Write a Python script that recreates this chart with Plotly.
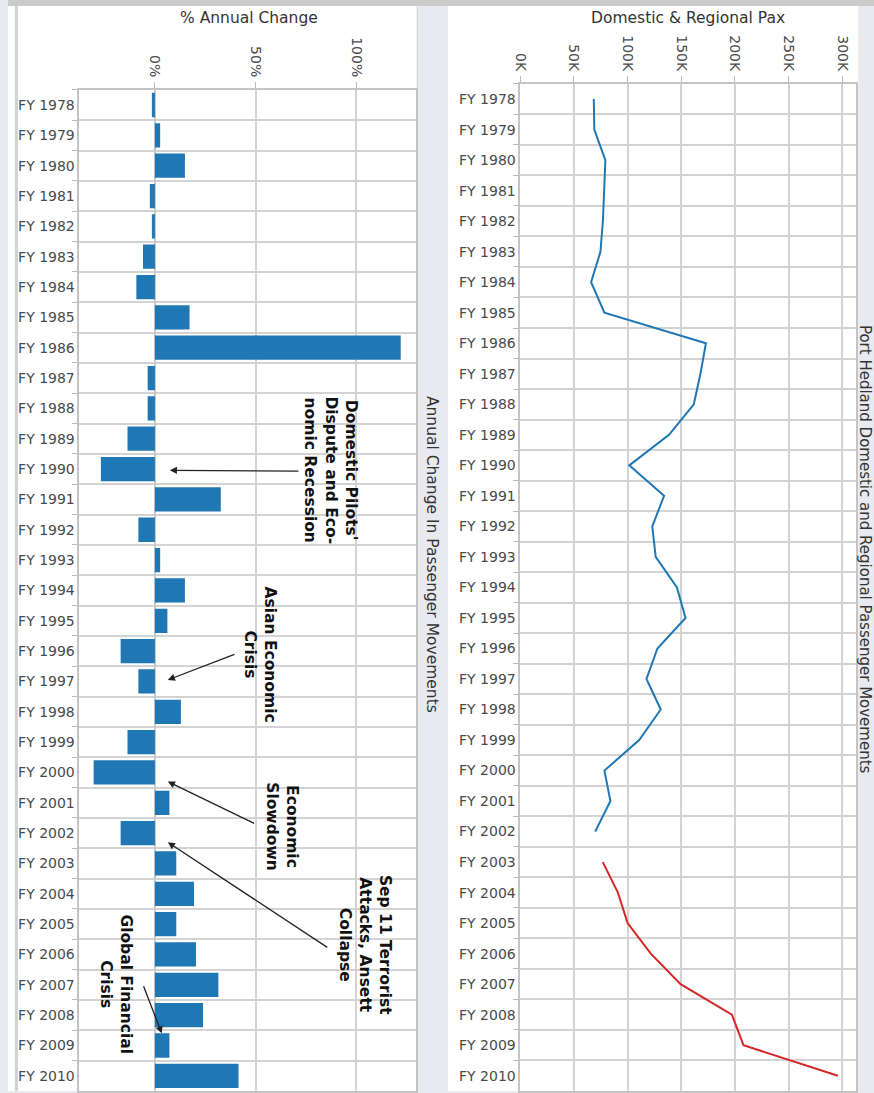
import plotly.graph_objects as go

W, H = 874, 1093

years = [f"FY {y}" for y in range(1978, 2011)]

pct_change = [-1.5, 2.6, 14.9, -2.5, -1.5, -5.9, -9.2, 17.2, 122.0, -3.6,
              -3.6, -13.6, -26.8, 32.7, -8.2, 2.6, 14.9, 6.2, -17.0, -8.2,
              12.9, -13.6, -30.4, 7.2, -17.0, 10.6, 19.4, 10.6, 20.4, 31.5,
              23.9, 7.2, 41.5]

pax = [68500, 69000, 79300, 77800, 77000, 74700, 66000, 78400, 173000, 167900,
       161700, 138600, 101600, 134000, 123000, 126200, 146000, 154000, 127800, 117600,
       130900, 110800, 78400, 84000, 69800, 76900, 91000, 100000, 121600, 149400,
       197200, 208000, 296000]

split = 25  # first year of the second (red) series: FY 2003

pax_ticks = [0, 50000, 100000, 150000, 200000, 250000, 300000]
pax_tick_text = ["0K", "50K", "100K", "150K", "200K", "250K", "300K"]
pct_ticks = [0, 50, 100]
pct_tick_text = ["0%", "50%", "100%"]

events = [
    # text, text x(%), text y(idx), tail x, tail y, head x, head y
    ("Domestic Pilots'<br>Dispute and Eco-<br>nomic Recession", 87.5, 12.05, 72.0, 12.07, 7.4, 12.04),
    ("Asian Economic<br>Crisis", 52.0, 18.1, 40.2, 18.09, 6.4, 18.95),
    ("Economic<br>Slowdown", 63.0, 23.8, 50.0, 23.7, 6.4, 22.3),
    ("Sep 11 Terrorist<br>Attacks, Ansett<br>Collapse", 104.0, 27.7, 86.3, 27.8, 6.4, 24.3),
    ("Global Financial<br>Crisis", -19.1, 29.0, -5.9, 29.0, 3.4, 30.6),
]

BLUE = "#1f77b4"
RED = "#d62728"
GRID = "#d3d3d3"
FONT = "DejaVu Sans"

def px(x):
    return x / W

def py(y):
    return 1 - y / H

fig = go.Figure()

fig.add_trace(go.Bar(x=pct_change, y=years, orientation="h", marker_color=BLUE,
                     marker_line_width=0, xaxis="x", yaxis="y", showlegend=False))
fig.add_trace(go.Scatter(x=pax[:split], y=years[:split], mode="lines",
                         line=dict(color=BLUE, width=2), xaxis="x2", yaxis="y2", showlegend=False))
fig.add_trace(go.Scatter(x=pax[split:], y=years[split:], mode="lines",
                         line=dict(color=RED, width=2), xaxis="x2", yaxis="y2", showlegend=False))

tickfont = dict(family=FONT, size=14, color="#4a4a4a")

common_y = dict(type="category", categoryorder="array", categoryarray=years,
                range=[32.5, -0.5], showgrid=True, gridcolor=GRID, gridwidth=1.5,
                tickson="boundaries", ticks="outside", ticklen=6, tickcolor="#bbb",
                showline=True, linecolor="#c4c4c4", linewidth=1.5, mirror=True,
                tickfont=tickfont, fixedrange=True)

fig.update_layout(
    width=W, height=H,
    margin=dict(l=0, r=0, t=0, b=0),
    paper_bgcolor="#e8eaef",
    plot_bgcolor="white",
    bargap=0.2,
    font=dict(family=FONT),
    xaxis=dict(domain=[px(72), px(412)], anchor="y", side="top",
               range=[-37.5, 129.7], tickvals=pct_ticks, ticktext=pct_tick_text,
               tickangle=90, ticks="outside", ticklen=6, tickcolor="#bbb",
               showgrid=True, gridcolor=GRID, gridwidth=1.5,
               zeroline=True, zerolinecolor="#c8c8c8", zerolinewidth=1.5,
               showline=True, linecolor="#c4c4c4", linewidth=1.5, mirror=True,
               tickfont=tickfont),
    yaxis=dict(domain=[0, py(90)], anchor="x", **common_y),
    xaxis2=dict(domain=[px(517), px(856)], anchor="y2", side="top",
                range=[0, 313000], tickvals=pax_ticks, ticktext=pax_tick_text,
                tickangle=90, ticks="outside", ticklen=6, tickcolor="#bbb",
                showgrid=True, gridcolor=GRID, gridwidth=1.5, zeroline=False,
                showline=True, linecolor="#c4c4c4", linewidth=1.5, mirror=True,
                tickfont=tickfont),
    yaxis2=dict(domain=[0, py(84)], anchor="x2", **common_y),
)

shapes = [
    # white panels
    dict(type="rect", xref="paper", yref="paper", x0=px(0), x1=px(414), y0=0, y1=py(6),
         fillcolor="white", line_width=0, layer="below"),
    dict(type="rect", xref="paper", yref="paper", x0=px(444), x1=px(858), y0=0, y1=py(6),
         fillcolor="white", line_width=0, layer="below"),
    # thin grey borders
    dict(type="rect", xref="paper", yref="paper", x0=px(7), x1=px(10), y0=0, y1=py(6),
         fillcolor="#d2d2d2", line_width=0, layer="below"),
    dict(type="rect", xref="paper", yref="paper", x0=px(412.5), x1=px(414), y0=0, y1=py(6),
         fillcolor="#d6d6d6", line_width=0, layer="below"),
    # top bar
    dict(type="rect", xref="paper", yref="paper", x0=0, x1=1, y0=py(6), y1=1,
         fillcolor="#cbcbcb", line_width=0, layer="below"),
]
fig.update_layout(shapes=shapes)

title_font = dict(family=FONT, size=15.5, color="#333")
annotations = [
    dict(text="% Annual Change", x=px(243), y=py(18), xref="paper", yref="paper",
         xanchor="center", yanchor="middle", showarrow=False, font=title_font),
    dict(text="Domestic & Regional Pax", x=px(686), y=py(18), xref="paper", yref="paper",
         xanchor="center", yanchor="middle", showarrow=False, font=title_font),
    dict(text="Annual Change In Passenger Movements", x=px(428), y=py(555), xref="paper", yref="paper",
         xanchor="center", yanchor="middle", showarrow=False, textangle=90, font=title_font),
    dict(text="Port Hedland Domestic and Regional Passenger Movements", x=px(865), y=py(550),
         xref="paper", yref="paper", xanchor="center", yanchor="middle",
         showarrow=False, textangle=90, font=dict(family=FONT, size=15, color="#333")),
]

for text, tx, ty, ax_, ay_, hx, hy in events:
    annotations.append(dict(text=text, x=tx, y=ty, xref="x", yref="y", showarrow=False,
                            textangle=90, align="center", xanchor="center", yanchor="middle",
                            font=dict(family=FONT, size=15.5, color="#111", weight="bold")))
    annotations.append(dict(text="", x=hx, y=hy, xref="x", yref="y",
                            ax=ax_, ay=ay_, axref="x", ayref="y",
                            showarrow=True, arrowhead=2, arrowsize=1.1, arrowwidth=1.3,
                            arrowcolor="#222", standoff=0, startstandoff=0))

fig.update_layout(annotations=annotations)

fig.write_html("out.html", config={"displayModeBar": False},
               post_script="document.body.style.margin='0';document.body.style.overflow='hidden';")
